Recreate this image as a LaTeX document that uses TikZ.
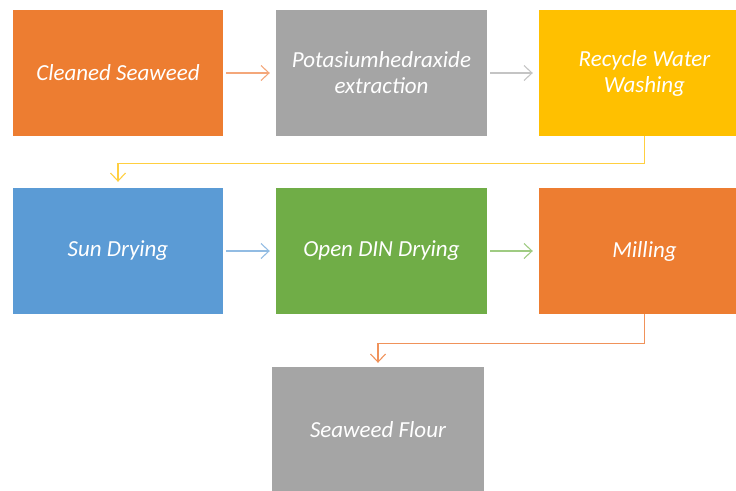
\documentclass[tikz,border=0pt]{standalone}
\usepackage{fontspec}
\setmainfont{Carlito}
\usetikzlibrary{arrows.meta}
\definecolor{corange}{HTML}{ED7D31}
\definecolor{cgray}{HTML}{A5A5A5}
\definecolor{cyellow}{HTML}{FFC000}
\definecolor{cblue}{HTML}{5B9BD5}
\definecolor{cgreen}{HTML}{70AD47}
\definecolor{aorange}{HTML}{F4A77A}
\definecolor{agray}{HTML}{C4C4C4}
\definecolor{ayellow}{HTML}{FFCF40}
\definecolor{ablue}{HTML}{92BCE3}
\definecolor{agreen}{HTML}{9FCB82}
\definecolor{aorange2}{HTML}{F0925A}
\begin{document}
\begin{tikzpicture}[x=1pt,y=-1pt,
  box/.style={minimum width=211pt, minimum height=126pt, inner sep=0pt, text=white,
    font=\itshape\fontsize{23}{26}\selectfont, align=center},
  conn/.style={line width=1.1pt, -{Straight Barb[length=8pt,width=15pt,line width=1.1pt]}}]
\useasboundingbox (0,0) rectangle (736,490);
\clip (0,0) rectangle (736,490);
\node[box, fill=corange, minimum width=210pt] (b1) at (118,73) {Cleaned Seaweed};
\node[box, fill=cgray] (b2) at (381.5,73) {Potasiumhedraxide\\extraction};
\node[box, fill=cyellow] (b3) at (644.5,73) {Recycle Water\\Washing};
\node[box, fill=cblue, minimum width=210pt] (b4) at (118,251) {Sun Drying};
\node[box, fill=cgreen] (b5) at (381.5,251) {Open DIN Drying};
\node[box, fill=corange] (b6) at (644.5,251) {Milling};
\node[box, fill=cgray, minimum width=212pt] (b7) at (378,430) {Seaweed Flour};
\draw[conn, aorange, shorten <=3pt, shorten >=6pt] (b1.east) -- (b2.west);
\draw[conn, agray, shorten <=3pt, shorten >=6pt] (b2.east) -- (b3.west);
\draw[conn, ablue, shorten <=3pt, shorten >=6pt] (b4.east) -- (b5.west);
\draw[conn, agreen, shorten <=3pt, shorten >=6pt] (b5.east) -- (b6.west);
\draw[conn, ayellow, shorten >=6pt] (b3.south) -- ++(0,27) -| (b4.north);
\draw[conn, aorange2, shorten >=4pt] (b6.south) -- ++(0,29) -| (b7.north);
\end{tikzpicture}
\end{document}
